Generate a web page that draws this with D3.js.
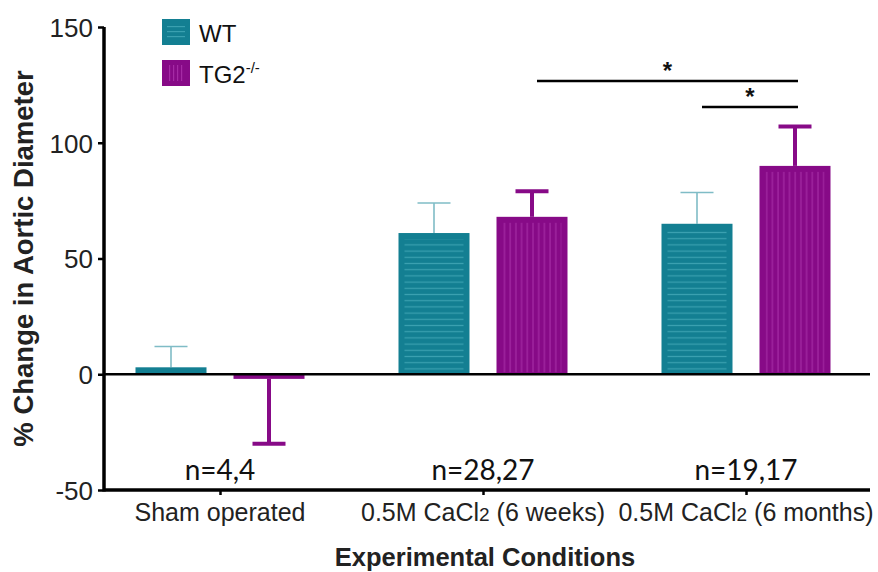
<!DOCTYPE html>
<html><head><meta charset="utf-8">
<script src="https://cdn.jsdelivr.net/npm/d3@7"></script>
<style>body{margin:0;background:#fff}svg{display:block}text{font-family:"Liberation Sans",Arial,sans-serif}</style>
</head><body><svg id="c" width="878" height="572"></svg>
<script>
const categories = ["Sham operated", "0.5M CaCl2 (6 weeks)", "0.5M CaCl2 (6 months)"];
const nLabels = ["n=4,4", "n=28,27", "n=19,17"];
const series = ["WT", "TG2"];
const wtMean = [3, 61, 65];
const wtErr = [12, 74, 78.5];
const tgMean = [-2, 68, 90];
const tgErr = [-30, 79, 107];
const yTicks = [-50, 0, 50, 100, 150];
const sigBars = [{from: [1, "TG2"], to: [2, "TG2"], level: 1}, {from: [2, "WT"], to: [2, "TG2"], level: 0}];

const svg = d3.select("#c");
const x0 = 104, x1 = 870;
const y = d3.scaleLinear().domain([-50, 150]).range([490, 27]);
const x = d3.scalePoint().domain(categories).range([220, 746]);
const inner = d3.scaleBand().domain(series).range([-84.5, 84.5]).paddingInner(0.2755).paddingOuter(0);
const colors = {WT: "#137f92", TG2: "#870a87"};
const hatch = {WT: "#3aa0b0", TG2: "#a52ba5"};

const defs = svg.append("defs");
const pw = defs.append("pattern").attr("id", "pWT").attr("patternUnits", "userSpaceOnUse").attr("width", 8).attr("height", 6.2);
pw.append("rect").attr("width", 8).attr("height", 6.2).attr("fill", colors.WT);
pw.append("rect").attr("y", 2.5).attr("width", 8).attr("height", 1.2).attr("fill", hatch.WT);
const pt = defs.append("pattern").attr("id", "pTG").attr("patternUnits", "userSpaceOnUse").attr("width", 5.7).attr("height", 8);
pt.append("rect").attr("width", 5.7).attr("height", 8).attr("fill", colors.TG2);
pt.append("rect").attr("x", 2.3).attr("width", 1.2).attr("height", 8).attr("fill", hatch.TG2);

const data = [];
categories.forEach((c, i) => {
  data.push({c, s: "WT", v: wtMean[i], e: wtErr[i]});
  data.push({c, s: "TG2", v: tgMean[i], e: tgErr[i]});
});
const bx = d => x(d.c) + inner(d.s);

// error bars (behind bars)
const eg = svg.append("g");
data.forEach(d => {
  const cx = bx(d) + inner.bandwidth() / 2;
  const wt = d.s === "WT";
  const col = wt ? "#7fbcc6" : colors.TG2;
  const sw = wt ? 1.6 : 4;
  eg.append("line").attr("x1", cx).attr("x2", cx).attr("y1", y(d.v)).attr("y2", y(d.e)).attr("stroke", col).attr("stroke-width", sw);
  eg.append("line").attr("x1", cx - 16.5).attr("x2", cx + 16.5).attr("y1", y(d.e)).attr("y2", y(d.e)).attr("stroke", col).attr("stroke-width", sw);
});

// bars
const bg = svg.append("g");
data.forEach(d => {
  const top = y(Math.max(0, d.v)), bot = y(Math.min(0, d.v));
  const h = bot - top;
  const w = inner.bandwidth();
  bg.append("rect").attr("x", bx(d)).attr("y", top).attr("width", w).attr("height", h).attr("fill", colors[d.s]);
  if (h > 20) {
    bg.append("rect").attr("x", bx(d) + 6).attr("y", top + 6).attr("width", w - 12).attr("height", h - 8)
      .attr("fill", d.s === "WT" ? "url(#pWT)" : "url(#pTG)");
  }
});

// zero line
svg.append("line").attr("x1", x0).attr("x2", x1).attr("y1", y(0)).attr("y2", y(0)).attr("stroke", "#000").attr("stroke-width", 2.6);

// y axis
const ya = svg.append("g").attr("transform", `translate(${x0},0)`)
  .call(d3.axisLeft(y).tickValues(yTicks).tickSize(6).tickPadding(5).tickFormat(d => String(d)));
ya.select(".domain").attr("stroke-width", 3.5).attr("d", `M0,${y(-50)+1.5}V${y(150)}`);
ya.selectAll(".tick line").attr("stroke-width", 2.5);
ya.selectAll(".tick text").attr("font-size", 26).attr("fill", "#222").style("font-family", "Liberation Sans, Arial").attr("dy", "0.36em");

// x axis
const xa = svg.append("g").attr("transform", `translate(0,${y(-50)})`)
  .call(d3.axisBottom(x).tickSize(5).tickFormat(""));
xa.select(".domain").attr("stroke-width", 3.5).attr("d", `M${x0},0H${x1}`);
xa.selectAll(".tick line").attr("stroke-width", 2.5);
categories.forEach((c, i) => {
  const t = svg.append("text").attr("x", x(c)).attr("y", 521).attr("text-anchor", "middle").attr("font-size", 25).attr("fill", "#222");
  const m = c.match(/^(.*CaCl)2(.*)$/);
  if (m) {
    t.append("tspan").text(m[1]);
    t.append("tspan").attr("font-size", 19).text("2");
    t.append("tspan").text(m[2]);
  } else t.text(c);
});

// n labels
nLabels.forEach((n, i) => {
  svg.append("text").attr("x", x(categories[i])).attr("y", 480).attr("text-anchor", "middle").attr("font-size", 28)
    .style("font-family", "Lato, 'Open Sans', sans-serif").attr("fill", "#111").text(n);
});

// axis titles
svg.append("text").attr("transform", `translate(33,${(27+490)/2}) rotate(-90)`).attr("text-anchor", "middle")
  .attr("font-size", 27.5).attr("font-weight", "bold").attr("fill", "#222").text("% Change in Aortic Diameter");
svg.append("text").attr("x", 485).attr("y", 566).attr("text-anchor", "middle")
  .attr("font-size", 25.5).attr("font-weight", "bold").attr("fill", "#222").text("Experimental Conditions");

// significance
const sigY = [107, 81];
sigBars.forEach(s => {
  const xa_ = x(categories[s.from[0]]) + inner(s.from[1]) + inner.bandwidth() / 2 + 5;
  const xb_ = x(categories[s.to[0]]) + inner(s.to[1]) + inner.bandwidth() / 2 + 3;
  const yy = sigY[s.level];
  svg.append("line").attr("x1", xa_).attr("x2", xb_).attr("y1", yy).attr("y2", yy).attr("stroke", "#000").attr("stroke-width", 2.5);
  svg.append("text").attr("x", (xa_ + xb_) / 2).attr("y", yy - 2).attr("text-anchor", "middle").attr("font-size", 24).attr("font-weight", "bold").attr("fill", "#111").text("*");
});

// legend
const lg = svg.append("g");
series.forEach((s, i) => {
  const yy = 19 + i * 41;
  lg.append("rect").attr("x", 162).attr("y", yy).attr("width", 28).attr("height", 26).attr("fill", colors[s]);
  if (s === "WT") {
    [7, 12, 17].forEach(o => lg.append("rect").attr("x", 167).attr("y", yy + o).attr("width", 18).attr("height", 1.2).attr("fill", hatch.WT));
  } else {
    [7, 11, 15, 19].forEach(o => lg.append("rect").attr("x", 162 + o).attr("y", yy + 5).attr("width", 1.2).attr("height", 16).attr("fill", hatch.TG2));
  }
  const t = lg.append("text").attr("x", 199).attr("y", yy + 23).attr("font-size", 24).attr("fill", "#111");
  if (s === "WT") t.text("WT");
  else {
    t.append("tspan").text("TG2");
    t.append("tspan").attr("font-size", 15).attr("dy", -10).text("-/-");
  }
});
</script></body></html>
